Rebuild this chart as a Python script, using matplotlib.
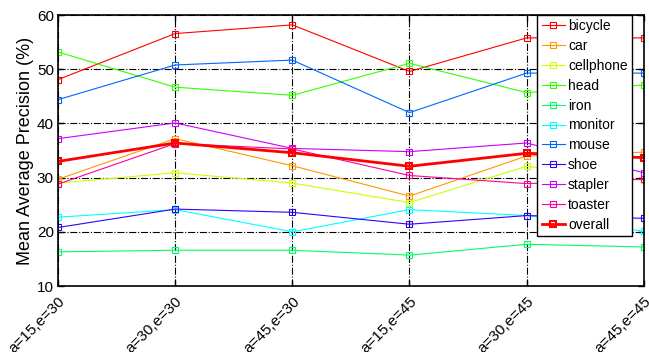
import numpy as np
import matplotlib
matplotlib.use("Agg")
import matplotlib.pyplot as plt

plt.rcParams['font.family'] = ['Liberation Sans', 'DejaVu Sans']

# viewpoint settings on the x axis
views = ["a=15,e=30", "a=30,e=30", "a=45,e=30", "a=15,e=45", "a=30,e=45", "a=45,e=45"]

# mean average precision per class (%)
bicycle = [48.1, 56.6, 58.2, 49.6, 55.8, 55.8]
car = [29.7, 37.2, 32.2, 26.6, 34.0, 34.7]
cellphone = [29.0, 30.9, 29.0, 25.4, 32.1, 29.5]
head = [53.2, 46.7, 45.2, 51.1, 45.7, 47.1]
iron = [16.3, 16.6, 16.6, 15.7, 17.7, 17.2]
monitor = [22.7, 24.1, 20.0, 24.1, 23.0, 20.1]
mouse = [44.4, 50.8, 51.7, 42.0, 49.3, 49.3]
shoe = [20.8, 24.2, 23.6, 21.4, 23.0, 22.5]
stapler = [37.2, 40.1, 35.4, 34.8, 36.4, 30.9]
toaster = [28.8, 36.3, 35.3, 30.4, 28.9, 29.7]
overall = [33.0, 36.4, 34.6, 32.1, 34.5, 33.7]

names = ["bicycle", "car", "cellphone", "head", "iron", "monitor",
         "mouse", "shoe", "stapler", "toaster"]
series = [bicycle, car, cellphone, head, iron, monitor, mouse, shoe, stapler, toaster]

# MATLAB-style hsv(10)
cols = ["#ff0000", "#ff9900", "#ccff00", "#33ff00", "#00ff66",
        "#00ffff", "#0066ff", "#3300ff", "#cc00ff", "#ff0099"]

fig = plt.figure(figsize=(6.49, 3.52), dpi=100)
ax = fig.add_axes([0.0894, 0.1875, 0.9026, 0.7695])

x = np.arange(len(views))
for name, vals, c in zip(names, series, cols):
    ax.plot(x, vals, color=c, lw=0.8, marker='s', ms=4, mfc='none', mew=0.8, label=name)
ax.plot(x, overall, color='red', lw=2, marker='s', ms=5, mfc='none', mew=1.5, label="overall")

ax.set_xlim(0, 5)
ax.set_ylim(10, 60)
ax.set_yticks([10, 20, 30, 40, 50, 60])
ax.set_xticks(x)
ax.set_xticklabels(views, rotation=45, ha='right', rotation_mode='anchor', fontsize=12)
ax.tick_params(direction='in', labelsize=11, length=4, width=1, top=True, right=True, pad=3)
ax.tick_params(axis='x', pad=6)
ax.set_ylabel("Mean Average Precision (%)", fontsize=13, labelpad=2)
ax.grid(True, color='black', linestyle='-.', lw=0.8)
for s in ax.spines.values():
    s.set_linewidth(1.2)

leg = ax.legend(loc='upper right', bbox_to_anchor=(0.9795, 1.0), borderaxespad=0,
                fontsize=10, fancybox=False, framealpha=1, edgecolor='black',
                handlelength=1.65, labelspacing=0.42, borderpad=0.3, handletextpad=0.25)
leg.get_frame().set_linewidth(1)

fig.savefig("out.png", dpi=100)
